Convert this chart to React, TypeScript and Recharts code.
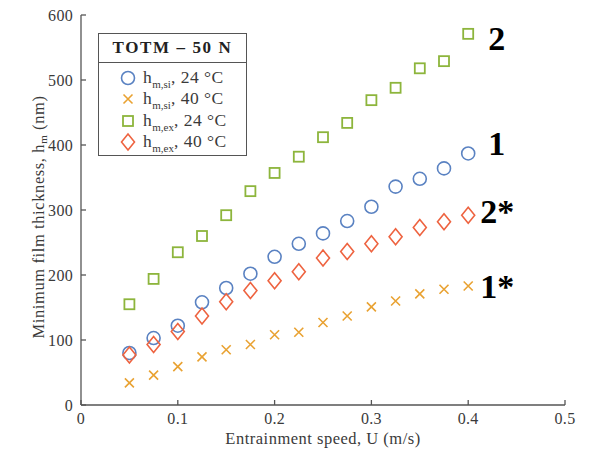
import React from 'react'
import { ScatterChart, Scatter, XAxis, YAxis } from 'recharts'

// entrainment speed, m/s
const speeds = [0.05, 0.075, 0.1, 0.125, 0.15, 0.175, 0.2, 0.225, 0.25, 0.275, 0.3, 0.325, 0.35, 0.375, 0.4]

// minimum film thickness, nm
const hmSi24 = [80, 103, 122, 158, 180, 202, 228, 248, 264, 283, 305, 336, 348, 364, 387]
const hmSi40 = [34, 46, 59, 74, 85, 93, 108, 112, 127, 137, 151, 160, 171, 178, 183]
const hmEx24 = [155, 194, 235, 260, 292, 329, 357, 382, 412, 434, 469, 488, 518, 529, 571]
const hmEx40 = [77, 93, 113, 137, 159, 176, 191, 205, 226, 236, 248, 259, 273, 282, 292]

const curveTags = ['1', '1*', '2', '2*']
const xTicks = [0, 0.1, 0.2, 0.3, 0.4, 0.5]
const yTicks = [0, 100, 200, 300, 400, 500, 600]

const FONT = '"Liberation Serif", serif'
const AXIS = '#555'
const TEXT = '#3a3a3a'

type Kind = 'circle' | 'cross' | 'square' | 'diamond'

function Marker({ kind, cx, cy, color }: { kind: Kind; cx: number; cy: number; color: string }) {
  if (kind === 'circle') return <circle cx={cx} cy={cy} r={6.5} fill="none" stroke={color} strokeWidth={1.6} />
  if (kind === 'cross')
    return (
      <path d={`M${cx - 4.5},${cy - 4.5}L${cx + 4.5},${cy + 4.5}M${cx - 4.5},${cy + 4.5}L${cx + 4.5},${cy - 4.5}`} stroke={color} strokeWidth={1.6} />
    )
  if (kind === 'square') return <rect x={cx - 5} y={cy - 5} width={10} height={10} fill="none" stroke={color} strokeWidth={1.8} />
  return <path d={`M${cx},${cy - 8}L${cx + 6.5},${cy}L${cx},${cy + 8}L${cx - 6.5},${cy}Z`} fill="none" stroke={color} strokeWidth={1.6} />
}

const series = [
  { key: 'si24', sub: 'm,si', temp: '24', vals: hmSi24, kind: 'circle' as Kind, color: '#5a82c2', tag: curveTags[0], dx: 20, dy: 2 },
  { key: 'si40', sub: 'm,si', temp: '40', vals: hmSi40, kind: 'cross' as Kind, color: '#e9a232', tag: curveTags[1], dx: 12, dy: 12 },
  { key: 'ex24', sub: 'm,ex', temp: '24', vals: hmEx24, kind: 'square' as Kind, color: '#8db53c', tag: curveTags[2], dx: 20, dy: 16 },
  { key: 'ex40', sub: 'm,ex', temp: '40', vals: hmEx40, kind: 'diamond' as Kind, color: '#ee6340', tag: curveTags[3], dx: 12, dy: 8 },
]

const rows = (vals: number[], tag: string) =>
  speeds.map((u, i) => ({ u, h: vals[i], tag: i === speeds.length - 1 ? tag : undefined }))

function XTick({ x, y, payload }: any) {
  const v = payload.value
  return (
    <g>
      <line x1={x} x2={x} y1={y - 8} y2={y - 13} stroke={AXIS} strokeWidth={1.3} />
      <text x={x} y={y} dy="0.71em" textAnchor="middle" fontFamily={FONT} fontSize={16} fill={TEXT} letterSpacing={0.3}>
        {v === 0 ? '0' : v.toFixed(1)}
      </text>
    </g>
  )
}

function YTick({ x, y, payload }: any) {
  return (
    <g>
      <line x1={x + 8} x2={x + 13} y1={y} y2={y} stroke={AXIS} strokeWidth={1.3} />
      <text x={x} y={y} dy="0.35em" textAnchor="end" fontFamily={FONT} fontSize={16} fill={TEXT} letterSpacing={0.3}>
        {payload.value}
      </text>
    </g>
  )
}

function YLabel({ viewBox }: any) {
  const cx = viewBox.x + 38
  const cy = viewBox.y + viewBox.height / 2 + 7
  return (
    <text x={cx} y={cy} transform={`rotate(-90, ${cx}, ${cy})`} textAnchor="middle" dy="0.35em" fontFamily={FONT} fontSize={16.5} fill={TEXT} letterSpacing={0.6}>
      <tspan>Minimum film thickness, h</tspan>
      <tspan dy={3} fontSize={11}>m</tspan>
      <tspan dy={-3}> (nm)</tspan>
    </text>
  )
}

function LegendBox() {
  return (
    <div
      style={{
        position: 'absolute',
        left: 98,
        top: 33,
        width: 149,
        height: 123,
        border: `1.3px solid ${AXIS}`,
        background: '#fff',
        fontFamily: FONT,
        color: TEXT,
        boxSizing: 'border-box',
      }}
    >
      <div style={{ height: 28, borderBottom: `1px solid ${AXIS}`, textAlign: 'center', fontWeight: 'bold', fontSize: 17, lineHeight: '28px', letterSpacing: 1.6, color: '#222' }}>
        TOTM – 50 N
      </div>
      <div style={{ paddingTop: 4 }}>
        {series.map((s) => (
          <div key={s.key} style={{ height: 21.5, display: 'flex', alignItems: 'center', fontSize: 17.5, letterSpacing: 0.5, whiteSpace: 'nowrap' }}>
            <svg width={44} height={20} style={{ flex: 'none' }}>
              <Marker kind={s.kind} cx={29} cy={10} color={s.color} />
            </svg>
            <span>
              h<sub style={{ fontSize: 11, letterSpacing: 0 }}>{s.sub}</sub>, {s.temp} °C
            </span>
          </div>
        ))}
      </div>
    </div>
  )
}

export default function App() {
  return (
    <div style={{ position: 'absolute', left: 0, top: 0, width: 593, height: 452, background: '#fff' }}>
      <ScatterChart width={593} height={452} margin={{ top: 15, right: 28, left: 0, bottom: 0 }}>
        <XAxis
          dataKey="u"
          type="number"
          domain={[0, 0.5]}
          ticks={xTicks}
          height={47}
          tickSize={0}
          tickMargin={8}
          tick={<XTick />}
          axisLine={{ stroke: AXIS, strokeWidth: 1.3 }}
          label={{ value: 'Entrainment speed, U (m/s)', position: 'insideBottom', offset: 8, fontFamily: FONT, fontSize: 16.5, fill: TEXT, letterSpacing: 0.5 }}
        />
        <XAxis xAxisId="top" orientation="top" type="number" domain={[0, 0.5]} height={0} tick={false} tickLine={false} axisLine={{ stroke: AXIS, strokeWidth: 1.3 }} />
        <YAxis
          dataKey="h"
          type="number"
          domain={[0, 600]}
          ticks={yTicks}
          width={81}
          tickSize={0}
          tickMargin={8}
          tick={<YTick />}
          axisLine={{ stroke: AXIS, strokeWidth: 1.3 }}
          label={{ content: <YLabel /> }}
        />
        <YAxis yAxisId="right" orientation="right" type="number" domain={[0, 600]} width={0} tick={false} tickLine={false} axisLine={{ stroke: AXIS, strokeWidth: 1.3 }} />
        {series.map((s) => (
          <Scatter
            key={s.key}
            data={rows(s.vals, s.tag)}
            isAnimationActive={false}
            shape={(p: any) => (
              <g>
                <Marker kind={s.kind} cx={p.cx} cy={p.cy} color={s.color} />
                {p.payload && p.payload.tag ? (
                  <text x={p.cx + s.dx} y={p.cy + s.dy} fontFamily={FONT} fontWeight="bold" fontSize={34} fill="#000">
                    {p.payload.tag}
                  </text>
                ) : null}
              </g>
            )}
          />
        ))}
      </ScatterChart>
      <LegendBox />
    </div>
  )
}
